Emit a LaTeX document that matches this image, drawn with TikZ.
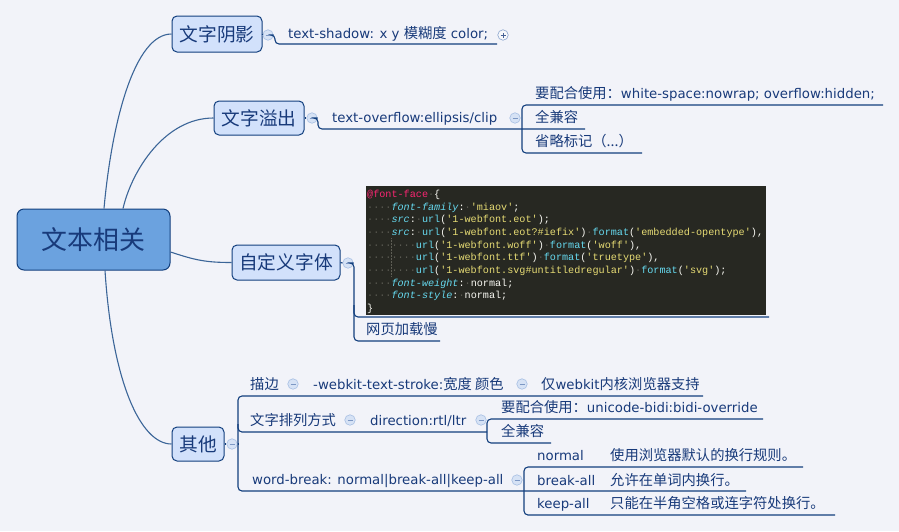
\documentclass[tikz,border=0pt]{standalone}
\usepackage{fontspec}
\setmainfont{DejaVu Sans}
\setmonofont{Liberation Mono}
\newfontfamily\cjk[Scale=1.075]{Noto Sans CJK SC}
\usetikzlibrary{positioning}
\definecolor{paper}{HTML}{F2F3F9}
\definecolor{ink}{HTML}{183A7A}
\definecolor{lineblue}{HTML}{123F7E}
\definecolor{limbblue}{HTML}{3B6598}
\definecolor{rootfill}{HTML}{6BA2DF}
\definecolor{topicfill}{HTML}{D2E1FB}
\definecolor{foldfill}{HTML}{D6E2F5}
\definecolor{foldline}{HTML}{A7BFE3}
\definecolor{codebg}{HTML}{272822}
\definecolor{cpink}{HTML}{F92672}
\definecolor{cblue}{HTML}{66D9EF}
\definecolor{cyellow}{HTML}{E6DB74}
\definecolor{cwhite}{HTML}{F8F8F2}
\definecolor{cdot}{HTML}{5E5E55}
\newcommand\cws[1]{\textcolor{cdot}{#1}}
\newcommand\cprop[1]{\textcolor{cblue}{\itshape #1}}
\newcommand\cfn[1]{\textcolor{cblue}{#1}}
\newcommand\cstr[1]{\textcolor{cyellow}{#1}}

\begin{document}
\begin{tikzpicture}[x=1pt,y=-1pt,
  branch/.style={draw=lineblue, line width=1.1pt, rounded corners=4pt},
  limb/.style={draw=limbblue, line width=1.1pt},
  rootbox/.style={draw=lineblue, fill=rootfill, line width=1pt, rounded corners=7pt,
    minimum width=153pt, minimum height=61pt, inner sep=0, text=ink,
    font=\fontsize{24.1}{28}\selectfont\cjk},
  topic/.style={draw=lineblue, fill=topicfill, line width=1pt, rounded corners=5pt,
    minimum height=35pt, inner sep=0, text=ink, font=\fontsize{17.4}{20}\selectfont\cjk},
  leaf/.style={anchor=base west, inner sep=0, text=ink, font=\fontsize{13.3}{15}\selectfont},
  zh/.style={leaf, font=\fontsize{13.3}{15}\selectfont\cjk},
  fold/.style={circle, draw=foldline, fill=foldfill, minimum size=10.5pt, inner sep=0, line width=0.6pt,
    path picture={\draw[foldline!70!ink, line width=0.8pt]
      ([xshift=-2.5pt]path picture bounding box.center) -- ([xshift=2.5pt]path picture bounding box.center);}},
  unfold/.style={circle, draw=foldline!80!ink, fill=paper!60!white, minimum size=10.5pt, inner sep=0, line width=0.6pt,
    path picture={\draw[ink!80, line width=0.8pt]
      ([xshift=-2.5pt]path picture bounding box.center) -- ([xshift=2.5pt]path picture bounding box.center)
      ([yshift=-2.5pt]path picture bounding box.center) -- ([yshift=2.5pt]path picture bounding box.center);}},
  codebox/.style={fill=codebg, minimum width=400pt, minimum height=129pt, inner sep=0},
  codeline/.style={anchor=base west, inner sep=0, text=cwhite, font=\ttfamily\fontsize{10.15}{12}\selectfont}]

  \fill[paper] (0,0) rectangle (899,531);
  \useasboundingbox (0,0) rectangle (899,531);

  % central topic and main branches
  \node[rootbox] (root) at (93.5,239.5) {文本相关};
  \node[topic, minimum width=90pt, minimum height=36pt] (shadow) at (217,34) {文字阴影};
  \node[topic, minimum width=90pt, minimum height=34pt] (overflow) at (259,118) {文字溢出};
  \node[topic, minimum width=108pt] (webfont) at (286,262.5) {自定义字体};
  \node[topic, minimum width=52pt, minimum height=34pt] (other) at (198,444) {其他};

  \draw[limb] ([xshift=10.5pt]root.north) .. controls (112,120) and (135,34) .. (shadow.west);
  \draw[limb] ([xshift=29.5pt]root.north) .. controls (132,170) and (165,118) .. (overflow.west);
  \draw[limb] ([yshift=-12.5pt]root.east) .. controls (195,260) and (205,262.5) .. (webfont.west);
  \draw[limb] ([xshift=11.5pt]root.south) .. controls (112,380) and (140,444) .. (other.west);

  % 文字阴影
  \node[fold] (fshadow) at (268,35) {};
  \node[leaf] (tshadow) at (288,38.5) {text-shadow: x y {\cjk 模糊度} color;};
  \node[unfold] (fshadowx) at (503,35) {};
  \draw[branch] (shadow.east) -- (fshadow.west);
  \draw[branch] (fshadow.east) -- (275,35) -- (275,44) -- (497,44);

  % 文字溢出
  \node[fold] (foverflow) at (312,118) {};
  \node[leaf] (toverflow) at (332,122.5) {text-overflow:ellipsis/clip};
  \node[fold] (ftoverflow) at (515,118) {};
  \node[leaf] (need) at (535,98.5) {{\cjk 要配合使用：}white-space:nowrap; overflow:hidden;};
  \node[zh] (allok) at (535,122.5) {全兼容};
  \node[zh] (mark) at (535,146.5) {省略标记（...）};
  \draw[branch] (overflow.east) -- (foverflow.west);
  \draw[branch] (foverflow.east) -- (318,118) -- (318,129) -- (585,129);
  \draw[branch] (883,105) -- (522,105) -- (522,153) -- (642,153);

  % 自定义字体
  \node[fold] (fwebfont) at (348,263) {};
  \node[codebox] (code) at (566,250.5) {};
  \draw[cdot, densely dotted, line width=0.5pt] (391.5,238) -- (391.5,276);
  \node[codeline] (code1) at (367,197.5) {\textcolor{cpink}{@font-face}\cws{·}\{};
  \node[codeline] (code2) at (367,210.2) {\cws{····}\cprop{font-family}:\cws{·}\cstr{'miaov'};};
  \node[codeline] (code3) at (367,222.8) {\cws{····}\cprop{src}:\cws{·}\cfn{url}(\cstr{'1-webfont.eot'});};
  \node[codeline] (code4) at (367,235.5) {\cws{····}\cprop{src}:\cws{·}\cfn{url}(\cstr{'1-webfont.eot?\#iefix'})\cws{·}\cfn{format}(\cstr{'embedded-opentype'}),};
  \node[codeline] (code5) at (367,248.2) {\cws{········}\cfn{url}(\cstr{'1-webfont.woff'})\cws{·}\cfn{format}(\cstr{'woff'}),};
  \node[codeline] (code6) at (367,260.8) {\cws{········}\cfn{url}(\cstr{'1-webfont.ttf'})\cws{·}\cfn{format}(\cstr{'truetype'}),};
  \node[codeline] (code7) at (367,273.5) {\cws{········}\cfn{url}(\cstr{'1-webfont.svg\#untitledregular'})\cws{·}\cfn{format}(\cstr{'svg'});};
  \node[codeline] (code8) at (367,286.2) {\cws{····}\cprop{font-weight}:\cws{·}normal;};
  \node[codeline] (code9) at (367,298.8) {\cws{····}\cprop{font-style}:\cws{·}normal;};
  \node[codeline] (code10) at (367,311.5) {\}};
  \node[zh] (slow) at (366,334.5) {网页加载慢};
  \draw[branch] (webfont.east) -- (fwebfont.west);
  \draw[branch] (fwebfont.east) -- (354,263) -- (354,341) -- (440,341);
  \draw[branch] (354,305) -- (354,317) -- (769,317);

  % 其他
  \node[fold] (fother) at (232,444) {};
  \draw[branch] (other.east) -- (fother.west);
  \draw[branch] (fother.east) -- (238,444);
  \draw[branch] (703,396) -- (238,396) -- (238,491) -- (746,491);
  \draw[branch] (238,424) -- (238,432) -- (487,432);
  \draw[branch] (763,419) -- (487,419) -- (487,443) -- (551,443);
  \draw[branch] (803,467) -- (524,467) -- (524,515) -- (835,515);

  \node[zh] (stroke) at (250,389) {描边};
  \node[fold] (fstroke) at (293,384) {};
  \node[leaf] (tstroke) at (313,389) {-webkit-text-stroke:{\cjk 宽度 颜色}};
  \node[fold] (ftstroke) at (522,384) {};
  \node[leaf] (webkit) at (541,389) {{\cjk 仅}webkit{\cjk 内核浏览器支持}};

  \node[zh] (dir) at (250,425) {文字排列方式};
  \node[fold] (fdir) at (350,420) {};
  \node[leaf] (tdir) at (370,425) {direction:rtl/ltr};
  \node[fold] (ftdir) at (481,420) {};
  \node[leaf] (bidi) at (501,412) {{\cjk 要配合使用：}unicode-bidi:bidi-override};
  \node[zh] (dirok) at (501,436.5) {全兼容};

  \node[leaf] (wbreak) at (252,484) {word-break: normal|break-all|keep-all};
  \node[fold] (fwbreak) at (517,480) {};
  \node[leaf] (wnormal) at (537,460) {normal};
  \node[zh] (wnormalx) at (610,460) {使用浏览器默认的换行规则。};
  \node[leaf] (wbreakall) at (537,485) {break-all};
  \node[zh] (wbreakallx) at (610,485) {允许在单词内换行。};
  \node[leaf] (wkeepall) at (537,508) {keep-all};
  \node[zh] (wkeepallx) at (610,508) {只能在半角空格或连字符处换行。};
\end{tikzpicture}
\end{document}
